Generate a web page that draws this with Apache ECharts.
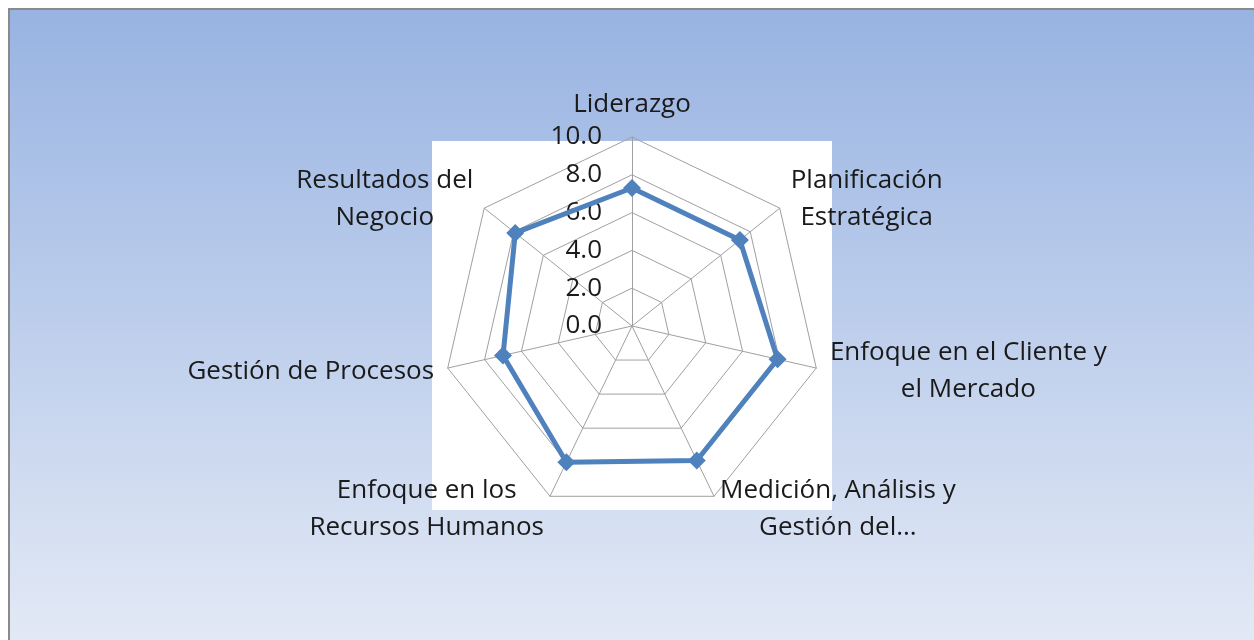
<!DOCTYPE html>
<html>
<head>
<meta charset="utf-8">
<script src="https://cdn.jsdelivr.net/npm/echarts@6/dist/echarts.min.js"></script>
<style>
html,body{margin:0;padding:0;background:#ffffff;}
#chart{width:1254px;height:640px;}
</style>
</head>
<body>
<div id="chart"></div>
<script>
const categories = [
  'Liderazgo',
  'Planificación\nEstratégica',
  'Enfoque en el Cliente y\nel Mercado',
  'Medición, Análisis y\nGestión del...',
  'Enfoque en los\nRecursos Humanos',
  'Gestión de Procesos',
  'Resultados del\nNegocio'
];
const values = [7.3, 7.3, 7.9, 7.9, 8.0, 7.0, 7.9];
const axisMax = 10;
const axisSplits = 5;

const FONT = '"Open Sans", sans-serif';
const FS = 26;
const chart = echarts.init(document.getElementById('chart'), null, {renderer: 'canvas'});

// ECharts radar runs counter-clockwise; keep the first axis on top and
// reverse the rest so the categories run clockwise as in the reference.
const order = [0].concat(categories.map((_, i) => i).slice(1).reverse());

const indicator = order.map((idx, k) => {
  const o = {name: categories[idx], min: 0, max: axisMax};
  if (k === 0) o.axisLabel = {show: true};
  return o;
});
const orderedValues = order.map(idx => values[idx]);

chart.setOption({
  animation: false,
  graphic: [
    {
      type: 'rect', z: -10, silent: true,
      shape: {x: 9, y: 9, width: 1260, height: 650},
      style: {
        fill: new echarts.graphic.LinearGradient(0, 0, 0, 1, [
          {offset: 0, color: '#98b3e2'},
          {offset: 1, color: '#e5ebf6'}
        ]),
        stroke: '#8a8a8a', lineWidth: 2
      }
    },
    {
      type: 'rect', z: -5, silent: true,
      shape: {x: 432, y: 141, width: 400, height: 369},
      style: {fill: '#ffffff'}
    }
  ],
  radar: {
    center: [632, 326],
    radius: 189,
    startAngle: 90,
    splitNumber: axisSplits,
    shape: 'polygon',
    indicator: indicator,
    nameGap: 14,
    axisName: {
      color: '#1a1a1a',
      fontFamily: FONT,
      fontSize: FS,
      lineHeight: 37,
      formatter: function (name) {
        return name.split('\n').map(l => '{c|' + l + '}').join('\n');
      },
      rich: {
        c: {align: 'center', fontFamily: FONT, fontSize: FS, lineHeight: 37, color: '#1a1a1a'}
      }
    },
    axisLine: {lineStyle: {color: '#a0a0a0', width: 1}},
    splitLine: {lineStyle: {color: '#a0a0a0', width: 1}},
    splitArea: {show: false},
    axisTick: {show: false},
    axisLabel: {
      show: false,
      color: '#1a1a1a',
      fontFamily: FONT,
      fontSize: FS,
      margin: 30,
      formatter: function (v) { return Number(v).toFixed(1); }
    }
  },
  series: [{
    type: 'radar',
    symbol: 'diamond',
    symbolSize: 18,
    lineStyle: {color: '#4f81bd', width: 5},
    itemStyle: {color: '#4f81bd'},
    data: [{value: orderedValues, name: 'Puntaje'}]
  }]
});
</script>
</body>
</html>
